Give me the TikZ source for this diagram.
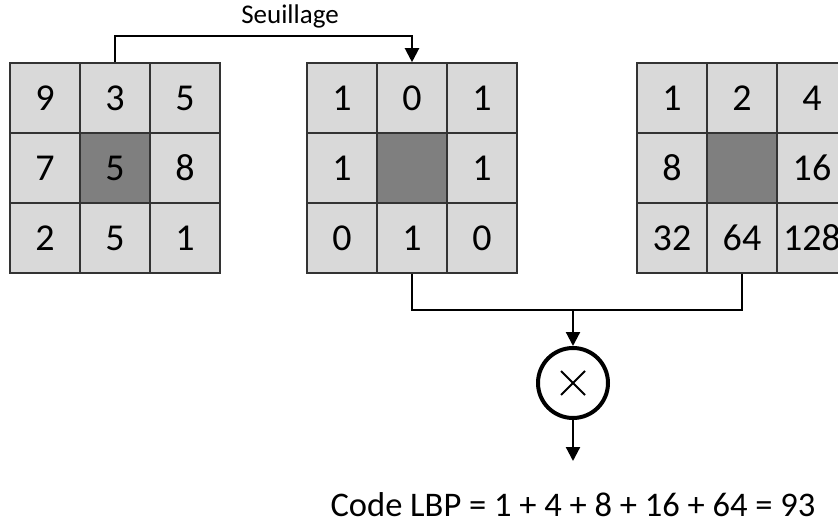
\documentclass[tikz,border=0pt]{standalone}
\usepackage{fontspec}
\setmainfont{Carlito}
\usetikzlibrary{arrows.meta}

\definecolor{cellgray}{HTML}{D9D9D9}
\definecolor{midgray}{HTML}{7F7F7F}

\tikzset{
    cell/.style={draw=black!80, fill=cellgray, line width=1.6pt, minimum size=70pt,
        inner sep=0pt, font=\fontsize{38}{44}\selectfont},
    centre/.style={cell, fill=midgray},
    link/.style={line width=2.2pt, -{Triangle[length=14pt,width=14pt]}},
    wire/.style={line width=2.2pt}
}

\begin{document}
\begin{tikzpicture}[x=1pt,y=-1pt]

    \useasboundingbox (0,0) rectangle (838,524);
    \clip (0,0) rectangle (838,524);

    % image
    \foreach \r/\c/\v in {0/0/9,0/1/3,0/2/5,1/0/7,1/2/8,2/0/2,2/1/5,2/2/1}
        \node[cell] (a\r\c) at (45+70*\c, 98+70*\r) {\v};
    \node[centre] (a11) at (115, 168) {5};

    % thresholded
    \foreach \r/\c/\v in {0/0/1,0/1/0,0/2/1,1/0/1,1/2/1,2/0/0,2/1/1,2/2/0}
        \node[cell] (b\r\c) at (342+70*\c, 98+70*\r) {\v};
    \node[centre] (b11) at (412, 168) {};

    % weights
    \foreach \r/\c/\v in {0/0/1,0/1/2,0/2/4,1/0/8,1/2/16,2/0/32,2/1/64,2/2/128}
        \node[cell] (c\r\c) at (672+70*\c, 98+70*\r) {\v};
    \node[centre] (c11) at (742, 168) {};

    \draw[link] (a01.north) -- ++(0,-26) -| (b01.north);
    \node[font=\fontsize{27}{30}\selectfont] (seuil) at (290, 16) {Seuillage};

    \coordinate (join) at (573, 310);
    \draw[wire] (b21.south) |- (join) -| (c21.south);

    \node[circle, draw, line width=4pt, minimum size=70pt, inner sep=0pt,
        path picture={\draw[line width=2pt] (-12pt,-12pt) -- (12pt,12pt)
            (-12pt,12pt) -- (12pt,-12pt);}] (mul) at (573, 383) {};
    \draw[link] (join) -- (mul.north);

    \coordinate (out) at (573, 461);
    \draw[link] (mul.south) -- (out);

    \node[font=\fontsize{34.5}{38}\selectfont] (code) at (573, 505)
        {Code LBP = 1 + 4 + 8 + 16 + 64 = 93};

\end{tikzpicture}
\end{document}
